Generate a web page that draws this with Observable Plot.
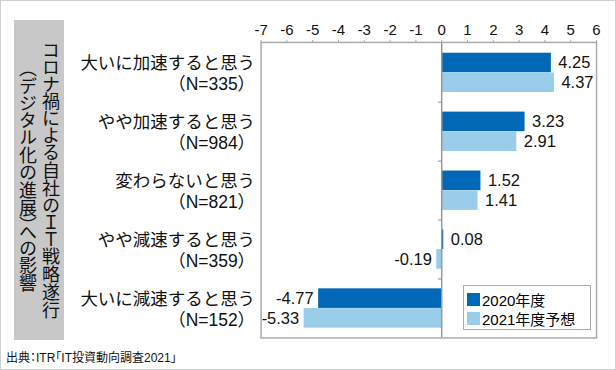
<!DOCTYPE html>
<html>
<head>
<meta charset="utf-8">
<script src="https://cdn.jsdelivr.net/npm/d3@7"></script>
<script src="https://cdn.jsdelivr.net/npm/@observablehq/plot@0.6"></script>
<style>
  html, body { margin: 0; padding: 0; background: #fff; }
  #wrap { position: relative; width: 616px; height: 370px; box-sizing: border-box; border: 1px solid #d0d0d0; overflow: hidden; font-family: "Liberation Sans", "Noto Sans CJK JP", sans-serif; }
  #chart { position: absolute; left: -1px; top: -1px; }
  #titlebox { position: absolute; left: 13px; top: 19px; width: 50px; height: 320px; background: #c8c8c8; display: flex; align-items: center; justify-content: center; }
  #titlebox div { writing-mode: vertical-rl; font-family: "Noto Sans CJK JP", sans-serif; font-size: 18px; line-height: 23px; color: #111; text-align: center; font-feature-settings: "vpal"; }
  #legend { position: absolute; left: 462px; top: 284px; width: 126px; height: 43px; border: 1px solid #aaa; background: #fff; font-size: 15px; }
  #legend .row { position: absolute; left: 3px; display: flex; align-items: center; height: 18px; }
  #legend .sw { width: 13px; height: 13px; margin-right: 2px; }
  #caption { position: absolute; left: 5px; top: 347px; font-size: 12px; color: #111; font-feature-settings: "palt"; }
  g[aria-label^="x-axis"] line, g[aria-label^="x-axis"] path { stroke: #aaa; }
</style>
</head>
<body>
<div id="wrap">
  <div id="chart"></div>
  <div id="titlebox"><div>コロナ禍による自社のＩＴ戦略遂行<br>（デジタル化の進展）への影響</div></div>
  <div id="legend"></div>
  <div id="caption">出典：ITR「IT投資動向調査2021」</div>
</div>
<script>
const categories = ["大いに加速すると思う", "やや加速すると思う", "変わらないと思う", "やや減速すると思う", "大いに減速すると思う"];
const counts = [335, 984, 821, 359, 152];
const series = ["2020年度", "2021年度予想"];
const values2020 = [4.25, 3.23, 1.52, 0.08, -4.77];
const values2021 = [4.37, 2.91, 1.41, -0.19, -5.33];
const colors = ["#0068b7", "#99cde9"];
const xTicks = [-7, -6, -5, -4, -3, -2, -1, 0, 1, 2, 3, 4, 5, 6];

const rows2020 = categories.map((c, i) => ({category: c, value: values2020[i]}));
const rows2021 = categories.map((c, i) => ({category: c, value: values2021[i]}));
const labelRows = categories.map((c, i) => ({category: c, label: c + "\n（N=" + counts[i] + "）"}));

const fmt = d => d.toFixed(2);
const pos = d => d.value >= 0;
const neg = d => d.value < 0;

const chart = Plot.plot({
  width: 616,
  height: 345,
  marginLeft: 261,
  marginRight: 19,
  marginTop: 42,
  marginBottom: 7,
  style: {fontFamily: "'Liberation Sans', 'Noto Sans CJK JP', sans-serif", fontSize: "15px", color: "#111", background: "transparent"},
  x: {domain: [-7, 6], ticks: xTicks, axis: "top", tickSize: 3, tickPadding: 4, tickFormat: d => String(d), label: null},
  y: {domain: categories, padding: 0, axis: null},
  marks: [
    Plot.barX(rows2020, {x: "value", y: "category", fill: colors[0], insetTop: 9.8, insetBottom: 29.6}),
    Plot.barX(rows2021, {x: "value", y: "category", fill: colors[1], insetTop: 29.6, insetBottom: 9.8}),
    Plot.ruleX([0], {stroke: "#999", strokeWidth: 1.5}),
    Plot.ruleY(categories.slice(1), {y: d => d, x1: -0.12, x2: 0, dy: -29.6, stroke: "#999", strokeWidth: 1.2}),
    Plot.frame({stroke: "#aaa", strokeWidth: 1.5}),
    Plot.text(rows2020.filter(pos), {x: "value", y: "category", text: d => fmt(d.value), dx: 7, dy: -9.8, textAnchor: "start", fontSize: 16.5, fill: "#111"}),
    Plot.text(rows2020.filter(neg), {x: "value", y: "category", text: d => fmt(d.value), dx: -5, dy: -9.8, textAnchor: "end", fontSize: 16.5, fill: "#111"}),
    Plot.text(rows2021.filter(pos), {x: "value", y: "category", text: d => fmt(d.value), dx: 7, dy: 10, textAnchor: "start", fontSize: 16.5, fill: "#111"}),
    Plot.text(rows2021.filter(neg), {x: "value", y: "category", text: d => fmt(d.value), dx: -5, dy: 10, textAnchor: "end", fontSize: 16.5, fill: "#111"}),
    Plot.text(labelRows, {y: "category", text: "label", frameAnchor: "left", dx: -6, textAnchor: "end", fontSize: 17.5, lineHeight: 1.2, fill: "#111"})
  ]
});
document.getElementById("chart").appendChild(chart);

const legend = document.getElementById("legend");
series.forEach((s, i) => {
  const row = document.createElement("div");
  row.className = "row";
  row.style.top = (4 + i * 19) + "px";
  const sw = document.createElement("span");
  sw.className = "sw";
  sw.style.background = colors[i];
  const t = document.createElement("span");
  t.textContent = s;
  row.appendChild(sw);
  row.appendChild(t);
  legend.appendChild(row);
});
</script>
</body>
</html>
